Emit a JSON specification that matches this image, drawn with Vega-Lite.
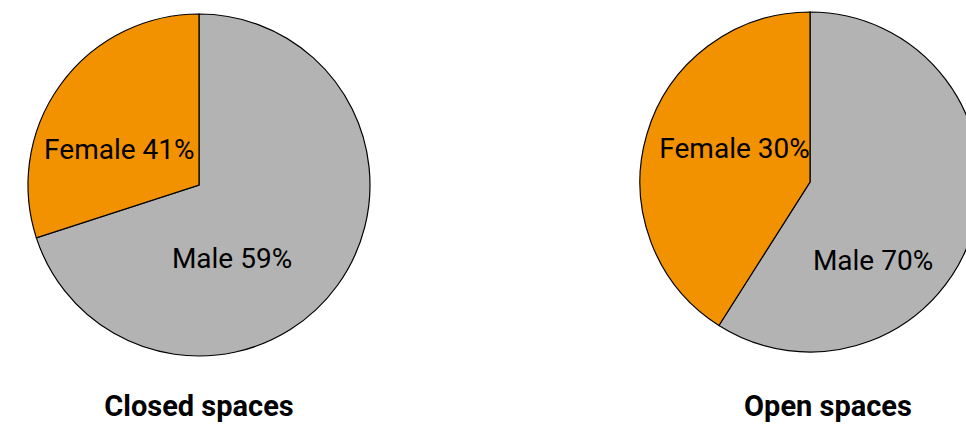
{
  "$schema": "https://vega.github.io/schema/vega-lite/v6.json",
  "padding": 0,
  "background": "white",
  "config": {"view": {"stroke": null}, "font": "Roboto"},
  "spacing": 213,
  "datasets": {
    "pies": [
      {"space": "Closed spaces", "gender": "Male", "value": 70, "label": "Male 59%"},
      {"space": "Closed spaces", "gender": "Female", "value": 30, "label": "Female 41%"},
      {"space": "Open spaces", "gender": "Male", "value": 59, "label": "Male 70%"},
      {"space": "Open spaces", "gender": "Female", "value": 41, "label": "Female 30%"}
    ]
  },
  "hconcat": [
    {
      "width": 398,
      "height": 370,
      "data": {"name": "pies"},
      "title": {"text": "Closed spaces", "orient": "bottom", "fontSize": 29, "font": "Roboto", "fontWeight": "bold", "offset": 23, "color": "black"},
      "transform": [
        {"filter": "datum.space == 'Closed spaces'"},
        {"stack": "value", "groupby": ["space"], "sort": [{"field": "gender", "order": "descending"}], "as": ["v0", "v1"]}
      ],
      "encoding": {
        "theta": {"field": "v0", "type": "quantitative", "scale": {"domain": [0, 100]}},
        "theta2": {"field": "v1"}
      },
      "layer": [
        {
          "mark": {"type": "arc", "radius": 171, "stroke": "black", "strokeWidth": 1.2},
          "encoding": {
            "color": {"field": "gender", "type": "nominal", "scale": {"domain": ["Female", "Male"], "range": ["#F39200", "#B3B3B3"]}, "legend": null}
          }
        },
        {
          "transform": [{"filter": "datum.gender == 'Female'"}],
          "mark": {"type": "text", "radius": 88, "dx": 4, "dy": -61, "fontSize": 28, "font": "Roboto", "color": "black", "baseline": "middle", "align": "center"},
          "encoding": {"text": {"field": "label"}}
        },
        {
          "transform": [{"filter": "datum.gender == 'Male'"}],
          "mark": {"type": "text", "radius": 0, "dx": 33, "dy": 75, "fontSize": 28, "font": "Roboto", "color": "black", "baseline": "middle", "align": "center"},
          "encoding": {"text": {"field": "label"}}
        }
      ]
    },
    {
      "width": 398,
      "height": 364,
      "data": {"name": "pies"},
      "title": {"text": "Open spaces", "orient": "bottom", "fontSize": 29, "font": "Roboto", "fontWeight": "bold", "offset": 29, "dx": 18, "color": "black"},
      "transform": [
        {"filter": "datum.space == 'Open spaces'"},
        {"stack": "value", "groupby": ["space"], "sort": [{"field": "gender", "order": "descending"}], "as": ["v0", "v1"]}
      ],
      "encoding": {
        "theta": {"field": "v0", "type": "quantitative", "scale": {"domain": [0, 100]}},
        "theta2": {"field": "v1"}
      },
      "layer": [
        {
          "mark": {"type": "arc", "radius": 170, "stroke": "black", "strokeWidth": 1.2},
          "encoding": {
            "color": {"field": "gender", "type": "nominal", "scale": {"domain": ["Female", "Male"], "range": ["#F39200", "#B3B3B3"]}, "legend": null}
          }
        },
        {
          "transform": [{"filter": "datum.gender == 'Female'"}],
          "mark": {"type": "text", "radius": 83, "dx": -31, "dy": -102, "fontSize": 28, "font": "Roboto", "color": "black", "baseline": "middle", "align": "center"},
          "encoding": {"text": {"field": "label"}}
        },
        {
          "transform": [{"filter": "datum.gender == 'Male'"}],
          "mark": {"type": "text", "radius": 0, "dx": 63, "dy": 80, "fontSize": 28, "font": "Roboto", "color": "black", "baseline": "middle", "align": "center"},
          "encoding": {"text": {"field": "label"}}
        }
      ]
    }
  ]
}
